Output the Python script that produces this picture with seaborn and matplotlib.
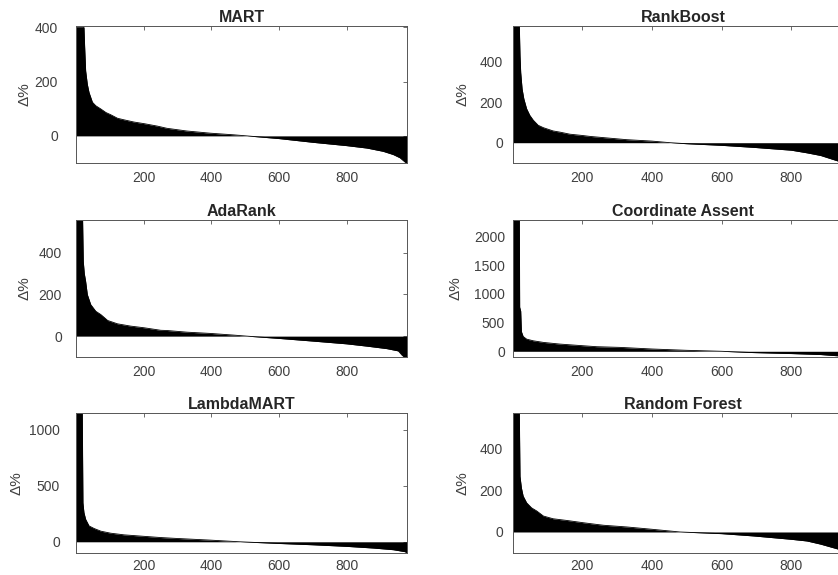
import matplotlib
matplotlib.use("Agg")
import matplotlib.pyplot as plt
import seaborn as sns

# Estilo tipo MATLAB
sns.set_style("white")
plt.rcParams["font.family"] = ["Liberation Sans", "DejaVu Sans"]

titles = ["MART", "RankBoost", "AdaRank", "Coordinate Assent", "LambdaMART", "Random Forest"]
x_ticks = [200, 400, 600, 800]

# rango de la consulta (ordenado) y diferencia en %
mart_rank = [1, 24, 26, 29, 34, 39, 44, 49, 59, 74, 89, 103, 123, 143, 172, 202, 241, 269,
             328, 397, 466, 505, 600, 702, 800, 860, 908, 938, 958, 973, 978]
mart_delta = [400, 400, 330, 240, 190, 160, 142, 124, 111, 99, 86, 78, 65, 59, 51, 45, 36, 28,
              18, 10, 4, 0, -10, -24, -36, -45, -57, -69, -81, -97, -100]

rankboost_rank = [1, 20, 22, 24, 28, 33, 41, 50, 60, 74, 89, 103, 117, 137, 165, 199, 223, 262,
                  328, 400, 453, 500, 600, 692, 800, 845, 884, 935, 978]
rankboost_delta = [575, 575, 428, 346, 265, 216, 167, 135, 111, 86, 74, 66, 58, 52, 42, 36, 31, 25,
                   15, 8, 0, -5, -13, -23, -37, -50, -63, -91, -100]

adarank_rank = [1, 20, 22, 25, 29, 34, 44, 59, 74, 94, 123, 162, 202, 251, 269, 328, 397, 466,
                505, 600, 702, 800, 860, 919, 953, 963, 970, 978]
adarank_delta = [556, 556, 358, 300, 262, 199, 151, 119, 103, 75, 59, 48, 40, 28, 27, 19, 13, 5,
                 0, -11, -24, -37, -48, -60, -71, -90, -100, -100]

ca_rank = [1, 20, 21, 24, 26, 31, 41, 60, 89, 136, 184, 242, 309, 400, 500, 600, 692, 800,
           884, 935, 978]
ca_delta = [2290, 2290, 770, 700, 343, 258, 212, 183, 155, 126, 105, 80, 68, 40, 17, 0, -23, -40,
            -57, -80, -100]

lambdamart_rank = [1, 19, 21, 24, 29, 39, 54, 74, 103, 143, 192, 251, 298, 397, 485, 600, 702,
                   800, 879, 938, 973, 978]
lambdamart_delta = [1152, 1152, 349, 261, 201, 142, 119, 95, 77, 62, 51, 38, 30, 15, 0, -15, -27,
                    -41, -56, -71, -89, -100]

rf_rank = [1, 20, 22, 26, 31, 41, 55, 70, 89, 117, 156, 204, 242, 262, 328, 400, 481, 600, 692,
           800, 845, 884, 935, 978]
rf_delta = [567, 567, 265, 210, 171, 139, 115, 100, 76, 63, 55, 44, 36, 32, 24, 13, 0, -8, -19,
            -35, -43, -58, -82, -100]

ranks = [mart_rank, rankboost_rank, adarank_rank, ca_rank, lambdamart_rank, rf_rank]
deltas = [mart_delta, rankboost_delta, adarank_delta, ca_delta, lambdamart_delta, rf_delta]
y_tops = [405, 575, 556, 2290, 1152, 567]
y_ticks = [[0, 200, 400], [0, 200, 400], [0, 200, 400],
           [0, 500, 1000, 1500, 2000], [0, 500, 1000], [0, 200, 400]]

# posiciones de los ejes (la columna derecha queda recortada como en el original)
positions = [
    [0.0907, 0.7165, 0.395, 0.2383], [0.6116, 0.7165, 0.407, 0.2383],
    [0.0907, 0.3791, 0.395, 0.2383], [0.6116, 0.3791, 0.407, 0.2383],
    [0.0907, 0.0383, 0.395, 0.2435], [0.6116, 0.0383, 0.407, 0.2435],
]
label_x = [-0.133, -0.125, -0.133, -0.148, -0.16, -0.125]
y_pads = [13, 6.8, 10, 5.4, 11.5, 6.8]
x_pads = [6, 6, 6, 6, 4.5, 4.5]

fig = plt.figure(figsize=(8.38, 5.75), dpi=100)

for i in range(6):
    ax = fig.add_axes(positions[i])
    ax.fill_between(ranks[i], deltas[i], 0, color="black", lw=0)
    sns.lineplot(x=ranks[i], y=deltas[i], color="black", lw=0.6, ax=ax)
    ax.set_xlim(0.5, 978.5)
    ax.set_ylim(-100, y_tops[i])
    ax.set_xticks(x_ticks)
    ax.set_yticks(y_ticks[i])
    ax.tick_params(direction="in", top=True, right=True, length=3, width=0.6,
                   labelsize=10, labelcolor="#404040", color="#555555")
    ax.tick_params(axis="x", pad=x_pads[i])
    ax.tick_params(axis="y", pad=y_pads[i])
    for s in ax.spines.values():
        s.set_color("#555555")
        s.set_linewidth(0.7)
    ax.set_title(titles[i], fontsize=11.5, fontweight="bold", pad=3)
    ax.set_ylabel("Δ%", fontsize=11, color="#404040")
    ax.yaxis.set_label_coords(label_x[i], 0.5)

fig.savefig("out.png", dpi=100)
